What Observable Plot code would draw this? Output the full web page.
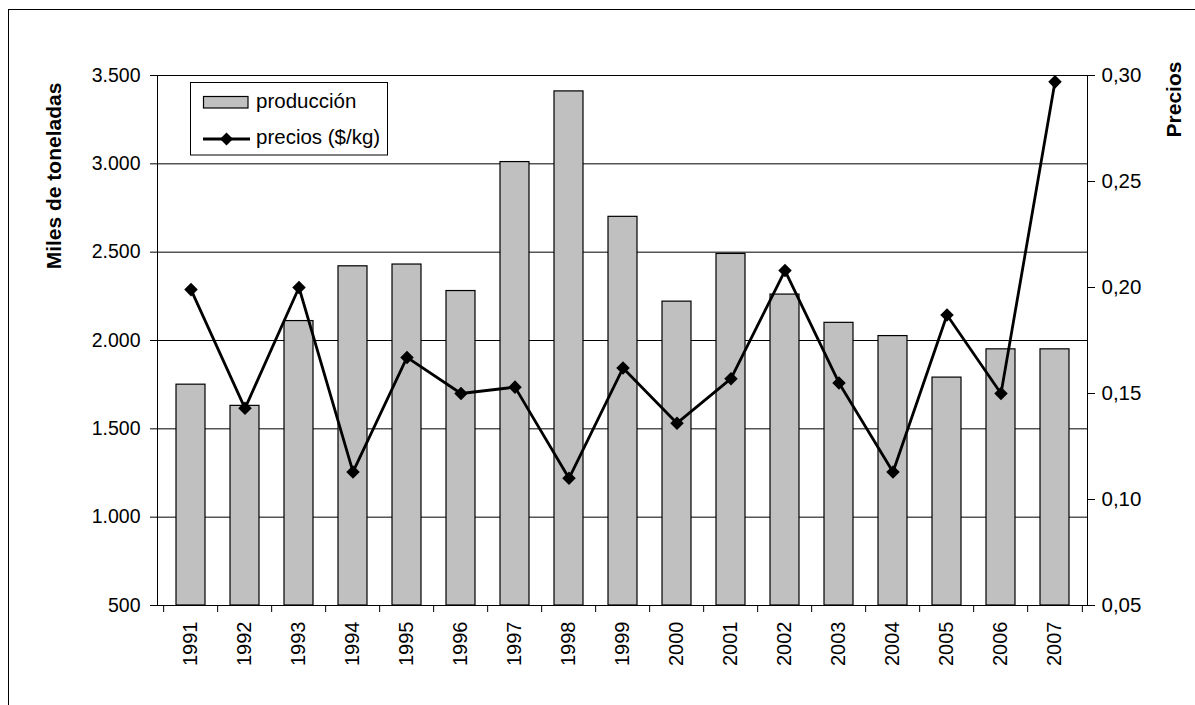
<!DOCTYPE html>
<html>
<head>
<meta charset="utf-8">
<script src="https://cdn.jsdelivr.net/npm/d3@7"></script>
<script src="https://cdn.jsdelivr.net/npm/@observablehq/plot@0.6"></script>
<style>
  html, body { margin: 0; padding: 0; background: #fff; overflow: hidden; }
  #wrap { position: relative; width: 1195px; height: 705px; }
  #border { position: absolute; left: 8px; top: 9px; width: 1300px; height: 800px;
            border-left: 1px solid #000; border-top: 1px solid #000; pointer-events: none; }
  #chart { position: absolute; left: 0; top: 0; }
</style>
</head>
<body>
<div id="wrap">
  <div id="border"></div>
  <div id="chart"></div>
</div>
<script>
// Producción anual (miles de toneladas) y precios ($/kg), 1991–2007
const years = ["1991","1992","1993","1994","1995","1996","1997","1998","1999",
               "2000","2001","2002","2003","2004","2005","2006","2007"];
const produccion = [1750, 1630, 2110, 2420, 2430, 2280, 3010, 3410, 2700,
                    2220, 2490, 2260, 2100, 2025, 1790, 1950, 1950];
const precios = [0.199, 0.143, 0.200, 0.113, 0.167, 0.150, 0.153, 0.110, 0.162,
                 0.136, 0.157, 0.208, 0.155, 0.113, 0.187, 0.150, 0.297];
const prodTicks = [500, 1000, 1500, 2000, 2500, 3000, 3500];
const priceTicks = [0.05, 0.10, 0.15, 0.20, 0.25, 0.30];

const prodDomain = [500, 3500];
const priceDomain = [0.05, 0.30];

// secondary axis: map prices onto the production scale
const priceToY = d3.scaleLinear().domain(priceDomain).range(prodDomain);

const data = years.map((year, i) => ({
  year,
  prod: produccion[i],
  precio: precios[i],
  precioY: priceToY(precios[i])
}));

const W = 1195, H = 705;
const mL = 157, mR = 108, mT = 75, mB = 100;
const step = (W - mL - mR) / years.length;

const font = "'Liberation Sans', Arial, Helvetica, sans-serif";
const fmtProd = d => d3.format(",")(d).replace(/,/g, ".");
const fmtPrice = d => priceToY.invert(d).toFixed(2).replace(".", ",");

const plot = Plot.plot({
  width: W,
  height: H,
  marginLeft: mL,
  marginRight: mR,
  marginTop: mT,
  marginBottom: mB,
  style: { fontFamily: font, fontSize: "20px", color: "#000", background: "transparent" },
  x: { type: "band", domain: years, paddingInner: 0.47, paddingOuter: 0.235, label: null },
  y: { domain: prodDomain, nice: false, label: null },
  marks: [
    Plot.gridY(prodTicks, { stroke: "#000", strokeOpacity: 1, strokeWidth: 1 }),
    Plot.barY(data, {
      x: "year", y1: prodDomain[0], y2: "prod",
      fill: "#c0c0c0", stroke: "#000", strokeWidth: 1.2
    }),
    Plot.frame({ stroke: "#000", strokeWidth: 1 }),
    // category boundary ticks below the x axis
    Plot.ruleX(years, {
      x: d => d, dx: -step / 2, y1: prodDomain[0], y2: prodDomain[0],
      insetBottom: -7, stroke: "#000"
    }),
    Plot.ruleX(years.slice(-1), {
      x: d => d, dx: step / 2, y1: prodDomain[0], y2: prodDomain[0],
      insetBottom: -7, stroke: "#000"
    }),
    Plot.axisX({ tickRotate: -90, tickSize: 0, tickPadding: 16, fontSize: 20, label: null }),
    Plot.axisY(prodTicks, {
      anchor: "left", tickFormat: fmtProd, tickSize: 7, tickPadding: 10,
      fontSize: 19.5, label: null
    }),
    Plot.axisY(priceTicks.map(priceToY), {
      anchor: "right", tickFormat: fmtPrice, tickSize: 7, tickPadding: 7,
      fontSize: 20.5, label: null
    }),
    Plot.line(data, { x: "year", y: "precioY", stroke: "#000", strokeWidth: 2.8 }),
    Plot.dot(data, {
      x: "year", y: "precioY", symbol: "square", r: 5.4, rotate: 45,
      fill: "#000", stroke: "none"
    })
  ]
});

document.getElementById("chart").appendChild(plot);

// axis titles and legend
const svg = d3.select(plot);

svg.append("text")
  .attr("transform", "translate(61,176) rotate(-90)")
  .attr("text-anchor", "middle")
  .attr("font-weight", "bold")
  .attr("font-size", 21)
  .attr("fill", "#000")
  .text("Miles de toneladas");

svg.append("text")
  .attr("transform", "translate(1181,99.5) rotate(-90)")
  .attr("text-anchor", "middle")
  .attr("font-weight", "bold")
  .attr("font-size", 21)
  .attr("fill", "#000")
  .text("Precios");

const lg = svg.append("g")
  .attr("font-size", 20.5)
  .attr("text-anchor", "start")
  .attr("fill", "#000");
lg.append("rect")
  .attr("x", 190.5).attr("y", 82.5).attr("width", 197).attr("height", 72.5)
  .attr("fill", "#fff").attr("stroke", "#000");
lg.append("rect")
  .attr("x", 203.5).attr("y", 96.5).attr("width", 44.5).attr("height", 11.5)
  .attr("fill", "#c0c0c0").attr("stroke", "#000").attr("stroke-width", 1.2);
lg.append("text").attr("x", 256).attr("y", 108).text("producción");
lg.append("line")
  .attr("x1", 203).attr("x2", 250).attr("y1", 139).attr("y2", 139)
  .attr("stroke", "#000").attr("stroke-width", 2.8);
lg.append("path")
  .attr("d", "M226.5,132.5L233,139L226.5,145.5L220,139Z")
  .attr("fill", "#000");
lg.append("text").attr("x", 256).attr("y", 144).text("precios ($/kg)");
</script>
</body>
</html>
